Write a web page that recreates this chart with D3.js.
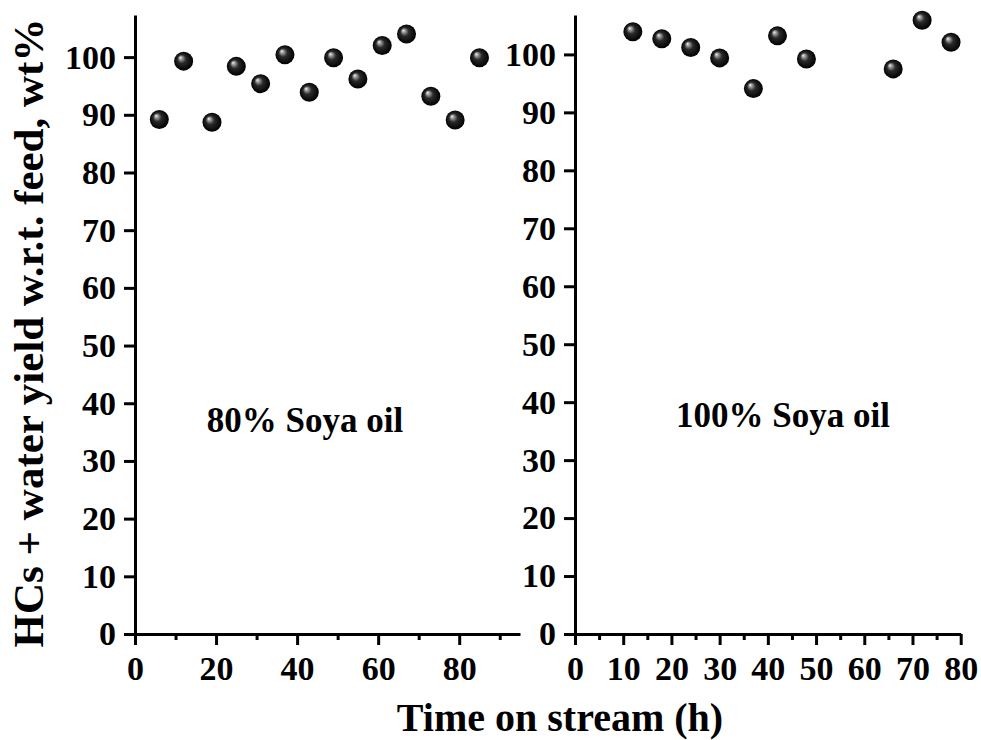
<!DOCTYPE html>
<html>
<head>
<meta charset="utf-8">
<script src="https://cdn.jsdelivr.net/npm/d3@7"></script>
<style>
  html, body { margin: 0; padding: 0; background: #fff; }
  svg { display: block; }
  text { font-family: "Liberation Serif", "Times New Roman", serif; font-weight: bold; fill: #000; }
</style>
</head>
<body>
<svg id="chart" width="981" height="740"></svg>
<script>
// Time on stream (h) and yield (wt%) for the two feeds
const timeSoya80 = [6, 12, 19, 25, 31, 37, 43, 49, 55, 61, 67, 73, 79, 85];
const yieldSoya80 = [89.2, 99.3, 88.7, 98.4, 95.4, 100.4, 93.9, 99.9, 96.2, 102.0, 104.0, 93.2, 89.1, 99.9];
const timeSoya100 = [12, 18, 24, 30, 37, 42, 48, 66, 72, 78];
const yieldSoya100 = [103.9, 102.7, 101.2, 99.4, 94.1, 103.2, 99.2, 97.5, 105.9, 102.1];

const yTicks = [0, 10, 20, 30, 40, 50, 60, 70, 80, 90, 100];
const xTicksLeft = [0, 20, 40, 60, 80];
const xMinorLeft = [10, 30, 50, 70, 90];
const xTicksRight = [0, 10, 20, 30, 40, 50, 60, 70, 80];
const xMinorRight = [5, 15, 25, 35, 45, 55, 65, 75];

const panelLabels = ["80% Soya oil", "100% Soya oil"];
const yTitle = "HCs + water yield w.r.t. feed, wt%";
const xTitle = "Time on stream (h)";

const svg = d3.select("#chart");

// Glossy sphere marker
const defs = svg.append("defs");
const grad = defs.append("radialGradient")
  .attr("id", "sphere")
  .attr("cx", "0.5").attr("cy", "0.5").attr("r", "0.5")
  .attr("fx", "0.32").attr("fy", "0.3");
grad.append("stop").attr("offset", "0%").attr("stop-color", "#f4f4f4");
grad.append("stop").attr("offset", "18%").attr("stop-color", "#9a9a9a");
grad.append("stop").attr("offset", "45%").attr("stop-color", "#2a2a2a");
grad.append("stop").attr("offset", "100%").attr("stop-color", "#000");

const panels = [
  { xs: timeSoya80, ys: yieldSoya80, xRange: [135, 520], xDomain: [0, 95], yDomain: [0, 107.3],
    major: xTicksLeft, minor: xMinorLeft, label: panelLabels[0], labelPos: [305, 431.5] },
  { xs: timeSoya100, ys: yieldSoya100, xRange: [575, 960.7], xDomain: [0, 80], yDomain: [0, 106.8],
    major: xTicksRight, minor: xMinorRight, label: panelLabels[1], labelPos: [783, 426.5] }
];

const yTop = 15, yBottom = 634;

panels.forEach(p => {
  const x = d3.scaleLinear().domain(p.xDomain).range(p.xRange);
  const y = d3.scaleLinear().domain(p.yDomain).range([yBottom, yTop]);
  const g = svg.append("g");

  // y axis
  g.append("g")
    .attr("transform", `translate(${p.xRange[0]},0)`)
    .call(d3.axisLeft(y).tickValues(yTicks).tickSize(11).tickSizeOuter(0).tickPadding(8));
  // x axis, major ticks
  g.append("g")
    .attr("transform", `translate(0,${yBottom})`)
    .call(d3.axisBottom(x).tickValues(p.major).tickSize(11).tickSizeOuter(0).tickPadding(11));
  // x axis, minor ticks
  g.append("g")
    .attr("transform", `translate(0,${yBottom})`)
    .call(d3.axisBottom(x).tickValues(p.minor).tickSize(6).tickSizeOuter(0).tickFormat(""))
    .select(".domain").remove();

  g.selectAll(".domain").attr("stroke", "#000").attr("stroke-width", 3);
  g.selectAll(".tick line").attr("stroke", "#000").attr("stroke-width", 3);
  g.selectAll(".tick text").attr("font-size", 34).style("font-family", "'Liberation Serif', serif").style("font-weight", "bold");

  // points
  g.selectAll("circle.pt")
    .data(p.xs.map((t, i) => [t, p.ys[i]]))
    .join("circle")
    .attr("class", "pt")
    .attr("cx", d => x(d[0]))
    .attr("cy", d => y(d[1]))
    .attr("r", 9.5)
    .attr("fill", "url(#sphere)");

  g.append("text")
    .attr("x", p.labelPos[0]).attr("y", p.labelPos[1])
    .attr("text-anchor", "middle")
    .attr("font-size", 35)
    .text(p.label);
});

svg.append("text")
  .attr("transform", "translate(43,333) rotate(-90)")
  .attr("text-anchor", "middle")
  .attr("font-size", 43)
  .text(yTitle);

svg.append("text")
  .attr("x", 560).attr("y", 731)
  .attr("text-anchor", "middle")
  .attr("font-size", 40)
  .text(xTitle);
</script>
</body>
</html>
